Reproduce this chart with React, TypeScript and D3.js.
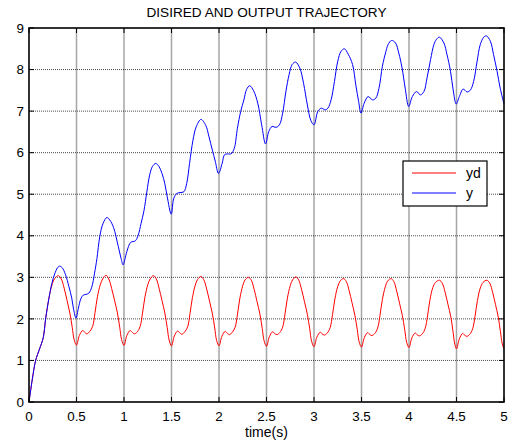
import React from "react";
import * as d3 from "d3";

// Desired trajectory yd(t): [time (s), value]
const desired: [number, number][] = [
  [0, 0], [0.035, 0.55], [0.07, 1.0], [0.11, 1.27], [0.15, 1.55], [0.175, 2.0], [0.21, 2.5],
  [0.24, 2.8], [0.27, 2.97], [0.31, 3.04], [0.34, 2.96], [0.37, 2.74], [0.4, 2.45], [0.43, 2.14],
  [0.455, 1.8], [0.475, 1.5],
  [0.5, 1.37], [0.53, 1.6], [0.565, 1.72], [0.585, 1.68], [0.61, 1.64], [0.64, 1.7], [0.67, 1.82],
  [0.695, 2.15], [0.72, 2.53], [0.75, 2.82], [0.775, 2.96], [0.81, 3.05], [0.84, 2.96], [0.87, 2.73],
  [0.9, 2.45], [0.93, 2.15], [0.955, 1.8], [0.975, 1.5],
  [1.0, 1.36], [1.03, 1.6], [1.065, 1.72], [1.085, 1.68], [1.11, 1.64], [1.14, 1.69], [1.17, 1.82],
  [1.195, 2.14], [1.22, 2.52], [1.25, 2.82], [1.275, 2.96], [1.31, 3.04], [1.34, 2.96], [1.37, 2.73],
  [1.4, 2.44], [1.43, 2.14], [1.455, 1.79], [1.475, 1.49],
  [1.5, 1.35], [1.53, 1.59], [1.565, 1.71], [1.585, 1.67], [1.61, 1.63], [1.64, 1.69], [1.67, 1.81],
  [1.695, 2.13], [1.72, 2.51], [1.75, 2.81], [1.775, 2.95], [1.81, 3.02], [1.84, 2.94], [1.87, 2.72],
  [1.9, 2.43], [1.93, 2.13], [1.955, 1.78], [1.975, 1.48],
  [2.0, 1.35], [2.03, 1.58], [2.065, 1.7], [2.085, 1.66], [2.11, 1.62], [2.14, 1.68], [2.17, 1.8],
  [2.195, 2.12], [2.22, 2.5], [2.25, 2.8], [2.275, 2.94], [2.31, 3.0], [2.34, 2.93], [2.37, 2.71],
  [2.4, 2.42], [2.43, 2.12], [2.455, 1.77], [2.475, 1.47],
  [2.5, 1.34], [2.53, 1.57], [2.565, 1.69], [2.585, 1.65], [2.61, 1.62], [2.64, 1.67], [2.67, 1.8],
  [2.695, 2.12], [2.72, 2.5], [2.75, 2.8], [2.775, 2.94], [2.81, 3.01], [2.84, 2.93], [2.87, 2.7],
  [2.9, 2.41], [2.93, 2.11], [2.955, 1.76], [2.975, 1.46],
  [3.0, 1.33], [3.03, 1.56], [3.065, 1.68], [3.085, 1.64], [3.11, 1.61], [3.14, 1.66], [3.17, 1.79],
  [3.195, 2.1], [3.22, 2.48], [3.25, 2.78], [3.275, 2.91], [3.31, 2.97], [3.34, 2.9], [3.37, 2.68],
  [3.4, 2.39], [3.43, 2.09], [3.455, 1.75], [3.475, 1.45],
  [3.5, 1.32], [3.53, 1.55], [3.565, 1.67], [3.585, 1.63], [3.61, 1.6], [3.64, 1.65], [3.67, 1.78],
  [3.695, 2.09], [3.72, 2.47], [3.75, 2.77], [3.775, 2.91], [3.81, 2.97], [3.84, 2.9], [3.87, 2.67],
  [3.9, 2.38], [3.93, 2.08], [3.955, 1.74], [3.975, 1.44],
  [4.0, 1.31], [4.03, 1.54], [4.065, 1.66], [4.085, 1.62], [4.11, 1.59], [4.14, 1.64], [4.17, 1.77],
  [4.195, 2.07], [4.22, 2.45], [4.25, 2.75], [4.28, 2.88], [4.32, 2.93], [4.35, 2.86], [4.38, 2.64],
  [4.41, 2.35], [4.44, 2.05], [4.462, 1.72], [4.48, 1.42],
  [4.5, 1.28], [4.53, 1.52], [4.565, 1.65], [4.585, 1.61], [4.61, 1.58], [4.64, 1.63], [4.67, 1.76],
  [4.695, 2.06], [4.72, 2.44], [4.75, 2.74], [4.78, 2.88], [4.82, 2.93], [4.85, 2.86], [4.88, 2.64],
  [4.91, 2.35], [4.94, 2.04], [4.962, 1.7], [4.98, 1.42],
  [5.0, 1.27],
];

// Output trajectory y(t): [time (s), value]
const output: [number, number][] = [
  [0, 0], [0.035, 0.55], [0.07, 1.0], [0.11, 1.27], [0.15, 1.55], [0.175, 2.0], [0.21, 2.5],
  [0.24, 2.85], [0.27, 3.08], [0.3, 3.23], [0.32, 3.27], [0.35, 3.23], [0.385, 3.06], [0.42, 2.78],
  [0.45, 2.5], [0.47, 2.22], [0.495, 2.02], [0.52, 2.26], [0.545, 2.48], [0.57, 2.57], [0.6, 2.59],
  [0.63, 2.62], [0.66, 2.76], [0.69, 3.1], [0.715, 3.45], [0.745, 3.98], [0.78, 4.3], [0.82, 4.44],
  [0.85, 4.38], [0.89, 4.2], [0.94, 3.74], [0.97, 3.45], [0.99, 3.3], [1.03, 3.62], [1.07, 3.84],
  [1.12, 3.88], [1.15, 4.02], [1.18, 4.3], [1.21, 4.6], [1.24, 5.05], [1.27, 5.46], [1.3, 5.67],
  [1.335, 5.74], [1.37, 5.66], [1.4, 5.5], [1.43, 5.25], [1.455, 4.94], [1.497, 4.52], [1.524, 4.9],
  [1.557, 5.02], [1.59, 5.04], [1.63, 5.06], [1.66, 5.26], [1.69, 5.74], [1.726, 6.3], [1.76, 6.62],
  [1.81, 6.8], [1.86, 6.66], [1.895, 6.38], [1.93, 6.06], [1.96, 5.8], [1.995, 5.5], [2.034, 5.75],
  [2.058, 5.95], [2.09, 5.97], [2.126, 5.97], [2.16, 6.1], [2.194, 6.59], [2.228, 6.99], [2.262, 7.27],
  [2.29, 7.52], [2.323, 7.61], [2.364, 7.49], [2.408, 7.19], [2.449, 6.67], [2.49, 6.21],
  [2.524, 6.51], [2.558, 6.63], [2.6, 6.61], [2.636, 6.67], [2.67, 6.95], [2.704, 7.47], [2.738, 7.88],
  [2.77, 8.12], [2.806, 8.18], [2.85, 8.04], [2.89, 7.67], [2.93, 7.15], [2.966, 6.78], [3.0, 6.67],
  [3.04, 6.99], [3.076, 7.07], [3.118, 7.03], [3.146, 7.07], [3.18, 7.27], [3.215, 7.71], [3.25, 8.2],
  [3.285, 8.44], [3.32, 8.5], [3.36, 8.37], [3.406, 8.12], [3.44, 7.63], [3.47, 7.23], [3.495, 6.95],
  [3.528, 7.19], [3.57, 7.35], [3.615, 7.27], [3.65, 7.31], [3.684, 7.55], [3.72, 8.08], [3.753, 8.4],
  [3.78, 8.6], [3.816, 8.7], [3.858, 8.64], [3.892, 8.4], [3.927, 8.04], [3.96, 7.55], [3.997, 7.11],
  [4.035, 7.35], [4.08, 7.47], [4.12, 7.39], [4.157, 7.47], [4.19, 7.8], [4.227, 8.24], [4.262, 8.6],
  [4.29, 8.73], [4.32, 8.78], [4.367, 8.64], [4.4, 8.36], [4.437, 7.96], [4.465, 7.51], [4.497, 7.17],
  [4.53, 7.35], [4.57, 7.53], [4.612, 7.46], [4.647, 7.51], [4.68, 7.71], [4.717, 8.2], [4.75, 8.6],
  [4.787, 8.78], [4.815, 8.81], [4.857, 8.68], [4.89, 8.36], [4.927, 7.96], [4.96, 7.55], [5.0, 7.17],
];

const xTicks = [0, 0.5, 1, 1.5, 2, 2.5, 3, 3.5, 4, 4.5, 5];
const yTicks = [0, 1, 2, 3, 4, 5, 6, 7, 8, 9];
const seriesNames = ["yd", "y"];
const seriesColors = ["#ff0000", "#0000ff"];

const W = 519;
const H = 445;
const M = { left: 29, right: 15, top: 28, bottom: 43 };
const FONT = "'Liberation Sans', Arial, Helvetica, sans-serif";

export default function App() {
  const x = d3.scaleLinear().domain([0, 5]).range([M.left, W - M.right]);
  const y = d3.scaleLinear().domain([0, 9]).range([H - M.bottom, M.top]);
  const line = d3
    .line<[number, number]>()
    .x((d) => x(d[0]))
    .y((d) => y(d[1]))
    .curve(d3.curveCatmullRom.alpha(0.5));

  const x0 = x(0), x1 = x(5), y0 = y(0), y1 = y(9);
  const tickLen = 5;

  const legX = 403, legY = 161, legW = 84, legH = 45;

  return (
    <svg
      width={W}
      height={H}
      style={{ position: "absolute", left: 0, top: 0, background: "#fff" }}
      fontFamily={FONT}
    >
      <rect x={0} y={0} width={W} height={H} fill="#fff" />
      {/* grid: vertical lines are soft and wide, horizontal lines thin and dotted */}
      <g stroke="#000" strokeWidth={1.5} opacity={0.35}>
        {xTicks.slice(1, -1).map((t) => (
          <line key={`gx${t}`} x1={x(t)} x2={x(t)} y1={y0} y2={y1} />
        ))}
      </g>
      <g stroke="#000" strokeWidth={1} strokeDasharray="1 1" opacity={0.7}>
        {yTicks.slice(1, -1).map((t) => (
          <line key={`gy${t}`} x1={x0} x2={x1} y1={y(t)} y2={y(t)} />
        ))}
      </g>
      {/* curves */}
      <path d={line(desired) ?? ""} fill="none" stroke={seriesColors[0]} strokeWidth={1} />
      <path d={line(output) ?? ""} fill="none" stroke={seriesColors[1]} strokeWidth={1} />
      {/* frame and ticks */}
      <rect x={x0} y={y1} width={x1 - x0} height={y0 - y1} fill="none" stroke="#000" strokeWidth={1.6} />
      <g stroke="#000" strokeWidth={1}>
        {xTicks.map((t) => (
          <g key={`tx${t}`}>
            <line x1={x(t)} x2={x(t)} y1={y0} y2={y0 - tickLen} />
            <line x1={x(t)} x2={x(t)} y1={y1} y2={y1 + tickLen} />
          </g>
        ))}
        {yTicks.map((t) => (
          <g key={`ty${t}`}>
            <line x1={x0} x2={x0 + tickLen} y1={y(t)} y2={y(t)} />
            <line x1={x1} x2={x1 - tickLen} y1={y(t)} y2={y(t)} />
          </g>
        ))}
      </g>
      {/* tick labels */}
      <g fontSize={13.4} fill="#000">
        {xTicks.map((t) => (
          <text key={`lx${t}`} x={x(t)} y={y0 + 19} textAnchor="middle">
            {String(t)}
          </text>
        ))}
        {yTicks.map((t) => (
          <text key={`ly${t}`} x={x0 - 5} y={y(t) + 4.7} textAnchor="end">
            {String(t)}
          </text>
        ))}
      </g>
      {/* title and axis label */}
      <text x={(x0 + x1) / 2} y={17.3} textAnchor="middle" fontSize={13.6} fill="#000">
        DISIRED AND OUTPUT TRAJECTORY
      </text>
      <text x={(x0 + x1) / 2} y={437} textAnchor="middle" fontSize={14} fill="#000">
        time(s)
      </text>
      {/* legend */}
      <rect x={legX} y={legY} width={legW} height={legH} fill="#fff" stroke="#000" strokeWidth={1.2} />
      {seriesNames.map((name, i) => (
        <g key={name}>
          <line
            x1={legX + 9}
            x2={legX + 53}
            y1={legY + 12 + i * 20}
            y2={legY + 12 + i * 20}
            stroke={seriesColors[i]}
            strokeWidth={1}
          />
          <text x={legX + 63} y={legY + 17 + i * 20} fontSize={14} fill="#000">
            {name}
          </text>
        </g>
      ))}
    </svg>
  );
}
